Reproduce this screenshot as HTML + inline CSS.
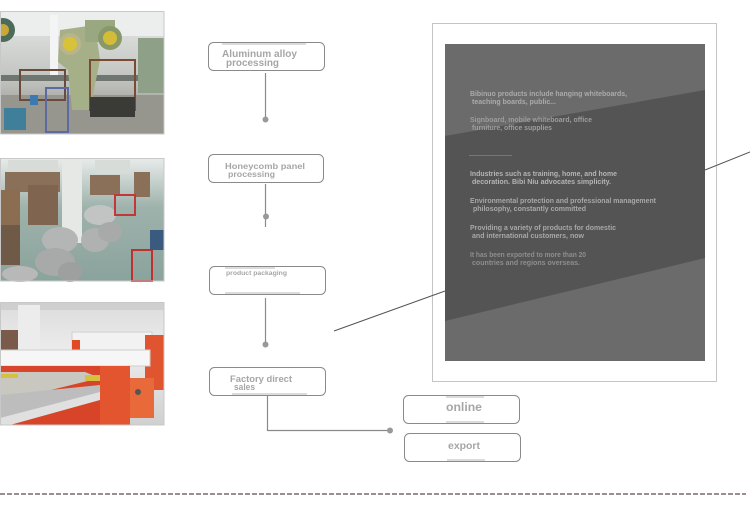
<!DOCTYPE html>
<html><head><meta charset="utf-8"><style>
html,body{margin:0;padding:0;background:#fff;width:750px;height:523px;overflow:hidden}
svg{display:block}
.bt{font-family:"Liberation Sans",Arial,sans-serif;font-weight:bold;fill:#a6a6a6}
.pt{font-family:"Liberation Sans",Arial,sans-serif;font-weight:bold;font-size:7px}
</style></head><body>
<svg width="750" height="523" viewBox="0 0 750 523" xmlns="http://www.w3.org/2000/svg">
<defs>
<linearGradient id="g1" x1="0" y1="0" x2="0" y2="1"><stop offset="0" stop-color="#e6e8e8"/><stop offset="0.55" stop-color="#c2c4c0"/><stop offset="1" stop-color="#8a8a86"/></linearGradient>
<linearGradient id="g2" x1="0" y1="0" x2="0" y2="1"><stop offset="0" stop-color="#e8ecea"/><stop offset="0.4" stop-color="#9fb2ac"/><stop offset="1" stop-color="#8aa39c"/></linearGradient>
<linearGradient id="g3" x1="0" y1="0" x2="0" y2="1"><stop offset="0" stop-color="#dcdcdc"/><stop offset="0.4" stop-color="#ececec"/><stop offset="1" stop-color="#d0d0d0"/></linearGradient>
</defs>

<!-- Photo 1 -->
<g>
<rect x="0" y="11" width="164" height="123" fill="url(#g1)"/>
<rect x="0" y="11" width="164" height="25" fill="#eceeed"/>
<rect x="50" y="15" width="8" height="60" fill="#f4f4f4"/>
<rect x="0" y="75" width="164" height="6" fill="#6f7570"/>
<rect x="0" y="95" width="164" height="39" fill="#96968f"/>
<circle cx="3" cy="30" r="12" fill="#4c6b5a"/>
<circle cx="3" cy="30" r="6" fill="#c9a83a"/>
<path d="M60 30 L95 25 L100 60 L90 110 L72 110 L68 70 L58 62 Z" fill="#a6b088"/>
<rect x="85" y="20" width="30" height="22" fill="#9aa882"/>
<circle cx="70" cy="44" r="11" fill="#b9b58a"/>
<circle cx="70" cy="44" r="7" fill="#d8c23a"/>
<circle cx="110" cy="38" r="12" fill="#889868"/>
<circle cx="110" cy="38" r="7" fill="#d4bc38"/>
<rect x="138" y="38" width="26" height="55" fill="#8fa088"/>
<rect x="90" y="60" width="45" height="50" fill="none" stroke="#7a4a32" stroke-width="2"/>
<rect x="20" y="70" width="45" height="30" fill="none" stroke="#6a4a3a" stroke-width="2"/>
<rect x="90" y="97" width="45" height="20" fill="#3a3a36"/>
<rect x="4" y="108" width="22" height="22" fill="#3f7f9a"/>
<rect x="30" y="95" width="8" height="10" fill="#3a7ab0"/>
<rect x="46" y="88" width="22" height="44" fill="none" stroke="#5b6aa0" stroke-width="2"/>
<rect x="0.5" y="11.5" width="163.5" height="122.5" fill="none" stroke="#c8c8c8"/>
</g>

<!-- Photo 2 -->
<g>
<rect x="0" y="158" width="164" height="123" fill="url(#g2)"/>
<rect x="8" y="160" width="50" height="12" fill="#d8dcd8"/>
<rect x="95" y="160" width="35" height="14" fill="#d8dcd8"/>
<rect x="5" y="172" width="55" height="20" fill="#8a7058"/>
<rect x="0" y="190" width="20" height="50" fill="#8b6e52"/>
<rect x="28" y="185" width="30" height="40" fill="#7f6550"/>
<rect x="0" y="225" width="20" height="40" fill="#6f5a48"/>
<rect x="90" y="175" width="30" height="20" fill="#8a7058"/>
<rect x="134" y="172" width="16" height="25" fill="#8a7058"/>
<rect x="62" y="158" width="20" height="85" fill="#e6e8e6"/>
<ellipse cx="60" cy="240" rx="18" ry="13" fill="#b4b6b6"/>
<ellipse cx="55" cy="262" rx="20" ry="14" fill="#a8aaaa"/>
<ellipse cx="70" cy="272" rx="12" ry="10" fill="#9ea0a0"/>
<ellipse cx="20" cy="274" rx="18" ry="8" fill="#b8b8b8"/>
<ellipse cx="95" cy="240" rx="14" ry="12" fill="#b0b2b2"/>
<ellipse cx="100" cy="215" rx="16" ry="10" fill="#c2c4c4"/>
<ellipse cx="110" cy="232" rx="12" ry="10" fill="#a8aaaa"/>
<rect x="115" y="195" width="20" height="20" fill="none" stroke="#c03838" stroke-width="2"/>
<rect x="132" y="250" width="20" height="31" fill="none" stroke="#c03030" stroke-width="2"/>
<rect x="150" y="230" width="14" height="20" fill="#3a5a80"/>
<rect x="0.5" y="158.5" width="163.5" height="122.5" fill="none" stroke="#c8c8c8"/>
</g>

<!-- Photo 3 -->
<g>
<rect x="0" y="302" width="164" height="123" fill="url(#g3)"/>
<rect x="0" y="302" width="164" height="8" fill="#cfcfcf"/>
<rect x="18" y="305" width="22" height="45" fill="#ececec"/>
<rect x="0" y="330" width="18" height="20" fill="#7a5a48"/>
<rect x="72" y="332" width="80" height="20" fill="#f2f2f2" stroke="#d0d0d0"/>
<rect x="72" y="340" width="8" height="14" fill="#e04a24"/>
<rect x="145" y="335" width="19" height="55" fill="#e05430"/>
<rect x="0" y="350" width="150" height="16" fill="#f6f6f6" stroke="#cfcfcf"/>
<rect x="0" y="366" width="105" height="10" fill="#d8452a"/>
<rect x="100" y="366" width="30" height="59" fill="#e2552e"/>
<rect x="130" y="378" width="24" height="40" fill="#e86a3a"/>
<circle cx="138" cy="392" r="3" fill="#555"/>
<path d="M0 376 L100 376 L100 425 L0 425 Z" fill="#d84428"/>
<path d="M0 372 L85 372 L100 378 L10 400 L0 400 Z" fill="#c8c8c0"/>
<path d="M0 395 L100 385 L100 395 L0 420 Z" fill="#bdbdbd"/>
<path d="M0 418 L100 392 L100 400 L10 425 L0 425 Z" fill="#e0e0e0"/>
<rect x="85" y="375" width="15" height="6" fill="#d6c040"/>
<rect x="0" y="374" width="18" height="4" fill="#d6c040"/>
<rect x="0.5" y="302.5" width="163.5" height="122.5" fill="none" stroke="#c8c8c8"/>
</g>

<!-- Flow boxes -->
<g fill="#fff" stroke="#8a8a8a" stroke-width="1">
<rect x="208.5" y="42.5" width="116" height="28" rx="5"/>
<rect x="208.5" y="154.5" width="115" height="28" rx="5"/>
<rect x="209.5" y="266.5" width="116" height="28" rx="5"/>
<rect x="209.5" y="367.5" width="116" height="28" rx="5"/>
<rect x="403.5" y="395.5" width="116" height="28" rx="5"/>
<rect x="404.5" y="433.5" width="116" height="28" rx="5"/>
</g>
<!-- subtle highlight bars -->
<g fill="#dcdcdc">
<rect x="222" y="43" width="84" height="2"/>
<rect x="225" y="267" width="50" height="2"/>
<rect x="225" y="292" width="75" height="2"/>
<rect x="232" y="393" width="75" height="2"/>
<rect x="446" y="396" width="38" height="2"/>
<rect x="446" y="421" width="38" height="2"/>
<rect x="447" y="459" width="38" height="2"/>
</g>

<!-- Box labels -->
<text class="bt" x="222" y="57" font-size="10" textLength="75" lengthAdjust="spacingAndGlyphs">Aluminum alloy</text>
<text class="bt" x="226" y="66" font-size="10" textLength="53" lengthAdjust="spacingAndGlyphs">processing</text>
<text class="bt" x="225" y="169" font-size="8.7" textLength="80" lengthAdjust="spacingAndGlyphs">Honeycomb panel</text>
<text class="bt" x="228" y="177" font-size="8.7" textLength="47" lengthAdjust="spacingAndGlyphs">processing</text>
<text class="bt" x="226" y="275" font-size="6.8" textLength="61" lengthAdjust="spacingAndGlyphs">product packaging</text>
<text class="bt" x="230" y="382" font-size="9.4" textLength="62" lengthAdjust="spacingAndGlyphs">Factory direct</text>
<text class="bt" x="234" y="390" font-size="9.4" textLength="21" lengthAdjust="spacingAndGlyphs">sales</text>
<text class="bt" x="446" y="411" font-size="11.5" textLength="36" lengthAdjust="spacingAndGlyphs">online</text>
<text class="bt" x="448" y="449" font-size="10.2" textLength="32" lengthAdjust="spacingAndGlyphs">export</text>

<!-- Connectors -->
<g stroke="#8a8a8a" stroke-width="1.2" fill="none">
<line x1="265.5" y1="73" x2="265.5" y2="119"/>
<line x1="265.5" y1="184" x2="265.5" y2="227"/>
<line x1="265.5" y1="298" x2="265.5" y2="345"/>
<polyline points="267.5,396 267.5,430.5 390,430.5"/>
</g>
<g fill="#999">
<circle cx="265.5" cy="119.5" r="3"/>
<circle cx="266" cy="216.5" r="3"/>
<circle cx="265.5" cy="344.5" r="3"/>
<circle cx="390" cy="430.5" r="3"/>
</g>

<!-- Panel frame -->
<rect x="432.5" y="23.5" width="284" height="358" fill="#fff" stroke="#c4c4c4"/>
<rect x="445" y="44" width="260" height="317" fill="#6b6b6b"/>
<polygon points="445,136 705,90 705,258 445,321" fill="#545454"/>

<!-- Pointer lines -->
<g stroke="#555" stroke-width="1">
<line x1="334" y1="331" x2="445" y2="291"/>
<line x1="705" y1="170" x2="750" y2="152"/>
</g>

<!-- Panel text -->
<g class="pt">
<text x="470" y="96" fill="#ababab" textLength="157" lengthAdjust="spacingAndGlyphs">Bibinuo products include hanging whiteboards,</text>
<text x="472" y="104" fill="#ababab" textLength="84" lengthAdjust="spacingAndGlyphs">teaching boards, public...</text>
<text x="470" y="122" fill="#9d9d9d" textLength="122" lengthAdjust="spacingAndGlyphs">Signboard, mobile whiteboard, office</text>
<text x="472" y="130" fill="#9d9d9d" textLength="80" lengthAdjust="spacingAndGlyphs">furniture, office supplies</text>
<text x="470" y="176" fill="#b5b5b5" textLength="147" lengthAdjust="spacingAndGlyphs">Industries such as training, home, and home</text>
<text x="472" y="184" fill="#b5b5b5" textLength="139" lengthAdjust="spacingAndGlyphs">decoration. Bibi Niu advocates simplicity.</text>
<text x="470" y="203" fill="#a8a8a8" textLength="186" lengthAdjust="spacingAndGlyphs">Environmental protection and professional management</text>
<text x="473" y="211" fill="#a8a8a8" textLength="113" lengthAdjust="spacingAndGlyphs">philosophy, constantly committed</text>
<text x="470" y="230" fill="#a8a8a8" textLength="146" lengthAdjust="spacingAndGlyphs">Providing a variety of products for domestic</text>
<text x="472" y="238" fill="#a8a8a8" textLength="112" lengthAdjust="spacingAndGlyphs">and international customers, now</text>
<text x="470" y="257" fill="#8e8e8e" textLength="116" lengthAdjust="spacingAndGlyphs">It has been exported to more than 20</text>
<text x="472" y="265" fill="#8e8e8e" textLength="108" lengthAdjust="spacingAndGlyphs">countries and regions overseas.</text>
</g>
<line x1="469" y1="155.5" x2="512" y2="155.5" stroke="#777" stroke-width="1"/>

<!-- Dashed divider -->
<line x1="0" y1="494" x2="746" y2="494" stroke="#5e4a50" stroke-width="1.2" stroke-dasharray="5,2"/>
</svg>
</body></html>
